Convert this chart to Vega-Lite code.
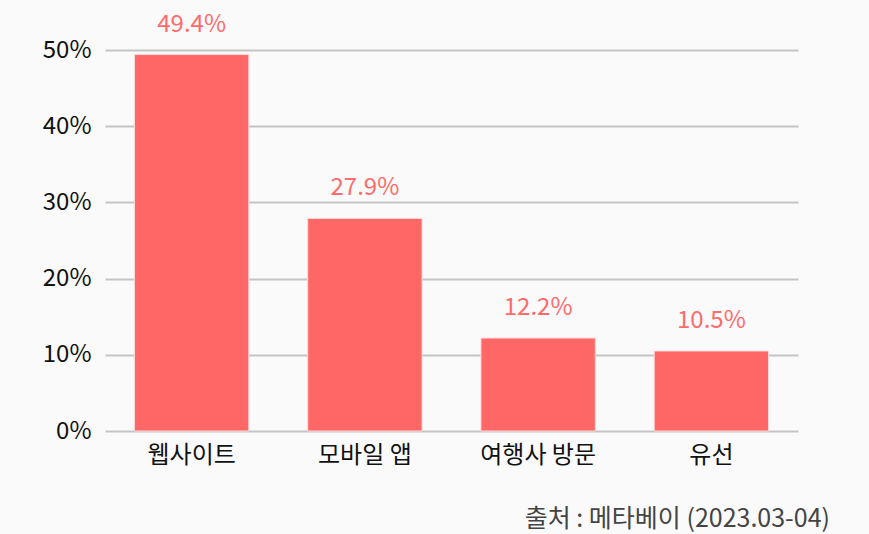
{
  "$schema": "https://vega.github.io/schema/vega-lite/v6.json",
  "width": 693,
  "height": 381,
  "autosize": {"type": "none"},
  "padding": {"left": 105, "top": 50, "right": 71, "bottom": 103},
  "background": "#fafafa",
  "config": {
    "font": "Noto Sans CJK KR",
    "view": {"stroke": null}
  },
  "title": {
    "text": "출처 : 메타베이 (2023.03-04)",
    "orient": "bottom",
    "anchor": "end",
    "dx": 32,
    "offset": 40,
    "fontSize": 25,
    "fontWeight": "normal",
    "color": "#444444",
    "font": "Noto Sans CJK KR"
  },
  "data": {
    "values": [
      {"channel": "웹사이트", "share": 49.4, "label": "49.4%"},
      {"channel": "모바일 앱", "share": 27.9, "label": "27.9%"},
      {"channel": "여행사 방문", "share": 12.2, "label": "12.2%"},
      {"channel": "유선", "share": 10.5, "label": "10.5%"}
    ]
  },
  "encoding": {
    "x": {
      "field": "channel",
      "type": "nominal",
      "sort": null,
      "scale": {"paddingInner": 0.34, "paddingOuter": 0.17},
      "axis": {
        "title": null,
        "labelAngle": 0,
        "labelFontSize": 24,
        "labelColor": "#111111",
        "labelPadding": 12,
        "ticks": false,
        "domain": false
      }
    },
    "y": {
      "field": "share",
      "type": "quantitative",
      "scale": {"domain": [0, 50]},
      "axis": {
        "title": null,
        "values": [0, 10, 20, 30, 40, 50],
        "labelExpr": "datum.value + '%'",
        "labelFontSize": 24,
        "labelColor": "#111111",
        "labelPadding": 14,
        "ticks": false,
        "domain": false,
        "gridColor": "#c4c4c4",
        "gridWidth": 2
      }
    }
  },
  "layer": [
    {
      "mark": {"type": "bar", "color": "#ff6666", "stroke": "#ffd9d9", "strokeWidth": 1}
    },
    {
      "mark": {
        "type": "text",
        "baseline": "bottom",
        "dy": -18,
        "fontSize": 24,
        "color": "#ff6b6b"
      },
      "encoding": {
        "text": {"field": "label", "type": "nominal"}
      }
    }
  ]
}
